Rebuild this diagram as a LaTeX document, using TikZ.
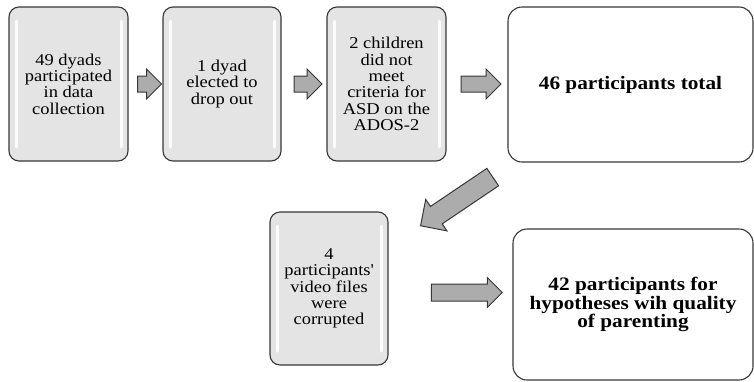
\documentclass[tikz,border=0pt]{standalone}
\usepackage{fontspec}
\setmainfont{Liberation Serif}[FakeStretch=1.12]
\usepackage{tikz}
\usetikzlibrary{
	shapes.arrows,
	calc
}
\definecolor{BoxGray}{RGB}{228,228,228}
\definecolor{ArrowGray}{RGB}{172,172,172}
\definecolor{EdgeGray}{RGB}{55,55,55}

\tikzset{
	graybox/.style={draw=EdgeGray, line width=1.1pt, fill=BoxGray, rounded corners=10pt,
		align=center, inner sep=0pt, minimum height=154pt,
		font=\fontsize{16.5}{16.3}\selectfont,
		path picture={
			\draw[white, line width=3pt, line cap=round, opacity=.9]
			([xshift=7pt,yshift=-14pt]path picture bounding box.north west) -- ([xshift=7pt,yshift=14pt]path picture bounding box.south west)
			([xshift=-7pt,yshift=-14pt]path picture bounding box.north east) -- ([xshift=-7pt,yshift=14pt]path picture bounding box.south east);
		}},
	whitebox/.style={draw=EdgeGray, line width=1.1pt, fill=white, rounded corners=14pt,
		align=center, inner sep=0pt, font=\fontsize{19}{18.5}\selectfont\bfseries},
	blockarrow/.style={single arrow, draw=EdgeGray, line width=1pt, fill=ArrowGray,
		inner xsep=0pt, inner ysep=7.5pt, single arrow head extend=7pt, minimum height=#1}
}

\begin{document}
\begin{tikzpicture}[x=1pt, y=-1pt]
	\useasboundingbox (0,0) rectangle (754,381);
	
	% 上排方框
	\node[graybox, minimum width=119pt] (dyads) at (68.5,84) {49 dyads\\participated\\in data\\collection};
	\node[graybox, minimum width=118pt] (dropout) at (222,84) {1 dyad\\elected to\\drop out};
	\node[graybox, minimum width=119pt] (criteria) at (386.5,84) {2 children\\did not\\meet\\criteria for\\ASD on the\\ADOS-2};
	\node[whitebox, minimum width=245pt, minimum height=155pt] (total) at (630.5,84.5) {46 participants total};
	
	% 下排方框
	\node[graybox, minimum width=118pt, minimum height=153pt] (corrupted) at (329,288.5) {4\\participants\textquotesingle\\video files\\were\\corrupted};
	\node[whitebox, minimum width=240pt, minimum height=151pt] (final) at (633,304.5) {42 participants for\\hypotheses wih quality\\of parenting};
	
	% 箭头
	\node[blockarrow=24pt] (a1) at ($(dyads.east)!0.5!(dropout.west)$) {};
	\node[blockarrow=28pt] (a2) at ($(dropout.east)!0.5!(criteria.west)$) {};
	\node[blockarrow=40pt] (a3) at (477,84) {};
	\node[blockarrow=87pt, inner ysep=10pt, single arrow head extend=8.5pt, rotate=214] (a4) at (461,198.5) {};
	\node[blockarrow=71pt, inner ysep=8pt, single arrow head extend=6.5pt] (a5) at (462.5,292.5) {};
\end{tikzpicture}
\end{document}
